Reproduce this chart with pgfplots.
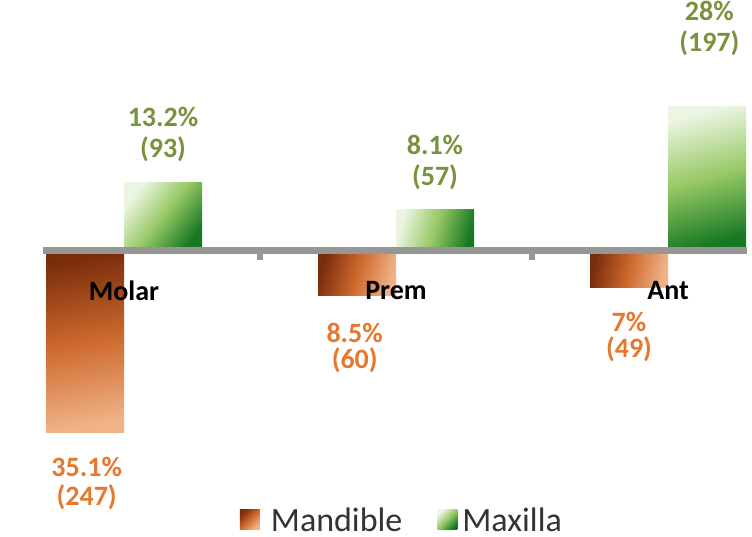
\documentclass[border=0pt]{standalone}
\usepackage{pgfplots}
\pgfplotsset{compat=1.18}
\usepackage{fontspec}
\setmainfont{Carlito}

\definecolor{manddark}{RGB}{122,45,12}
\definecolor{mandmid}{RGB}{205,105,45}
\definecolor{mandlight}{RGB}{240,178,135}
\definecolor{maxlight}{RGB}{236,245,226}
\definecolor{maxmid}{RGB}{150,200,100}
\definecolor{maxdark}{RGB}{22,120,35}
\definecolor{greentext}{RGB}{119,147,60}
\definecolor{orangetext}{RGB}{230,120,45}
\definecolor{basegray}{RGB}{150,150,150}

% 1px of the reference = 0.75pt
\pgfplotsset{
  mand/.style={ybar, bar width=58.5pt, bar shift=-29.25pt, draw=none,
    top color=manddark, bottom color=mandlight, middle color=mandmid,
    every node near coord/.append style={text=orangetext, inner sep=0pt,
      font=\bfseries\fontsize{21}{19.5}\selectfont, align=center, anchor=north}},
  maxi/.style={ybar, bar width=58.5pt, bar shift=29.25pt, draw=none,
    top color=maxlight, bottom color=maxdark, middle color=maxmid,
    every node near coord/.append style={text=greentext, inner sep=0pt,
      font=\bfseries\fontsize{21}{23.25}\selectfont, align=center, anchor=south}},
  mandleg/.style={legend image code/.code={\path (19.5pt,0pt);
      \path[##1] (0pt,-7.5pt) rectangle (15pt,7.5pt);},
    draw=none, top color=manddark, bottom color=mandlight, middle color=mandmid, shading angle=45},
  maxileg/.style={legend image code/.code={\path[##1] (0pt,-7.5pt) rectangle (15pt,7.5pt);},
    draw=none, top color=maxlight, bottom color=maxdark, middle color=maxmid, shading angle=45},
}

\begin{document}
\begin{tikzpicture}
\begin{axis}[
  scale only axis,
  width=564pt, height=402.75pt,
  xmin=-0.4559, xmax=2.3088,
  ymin=-389.1, ymax=341.5,
  axis on top,
  axis x line=middle, axis y line=none,
  axis line style={draw=basegray, line width=5.25pt, shorten <=32.25pt, shorten >=3.75pt, -},
  xtick={0,1,2}, xticklabels={Molar,Prem,Ant},
  ytick=\empty,
  major tick length=0pt,
  extra x ticks={0.5,1.5}, extra x tick labels={},
  extra x tick style={major tick length=6.75pt, tick align=outside,
    tick style={draw=basegray, line width=4.5pt}},
  xticklabel style={font=\bfseries\fontsize{21}{25}\selectfont, text=black,
    inner sep=0pt, anchor=north, yshift=-22.5pt},
  clip=false,
  axis background/.style={fill=white},
  legend columns=2,
  legend style={at={(0.534,0.033)}, anchor=center, draw=none, fill=none,
    font=\fontsize{25.5}{29}\selectfont, text=black!80,
    nodes={inner sep=1pt, text depth=0pt},
    /tikz/every odd column/.append style={column sep=2.75pt},
    /tikz/every even column/.append style={column sep=25.25pt}},
]
% Mandible (below the axis)
\addplot[mand, shading angle=10, forget plot, nodes near coords={35.1\%\\(247)},
  every node near coord/.append style={yshift=-18.4pt, xshift=-28pt,
    font=\bfseries\fontsize{21}{22}\selectfont}] coordinates {(0,-247)};
\addplot[mand, shading angle=75, forget plot, nodes near coords={8.5\%\\(60)},
  every node near coord/.append style={yshift=-21pt, xshift=-31pt}] coordinates {(1,-60)};
\addplot[mand, shading angle=78, forget plot, nodes near coords={7\%\\(49)},
  every node near coord/.append style={yshift=-18.75pt, xshift=-29.25pt}] coordinates {(2,-49)};
% Maxilla (above the axis)
\addplot[maxi, shading angle=52, forget plot, nodes near coords={13.2\%\\(93)},
  every node near coord/.append style={yshift=15.5pt, xshift=29.25pt}] coordinates {(0,93)};
\addplot[maxi, shading angle=73, forget plot, nodes near coords={8.1\%\\(57)},
  every node near coord/.append style={yshift=14.3pt, xshift=29.25pt}] coordinates {(1,57)};
\addplot[maxi, shading angle=15, forget plot, nodes near coords={28\%\\(197)},
  every node near coord/.append style={yshift=37.75pt, xshift=31pt}] coordinates {(2,197)};

\addlegendimage{mandleg}
\addlegendentry{Mandible}
\addlegendimage{maxileg}
\addlegendentry{Maxilla}
\end{axis}
\pgfresetboundingbox
\path[use as bounding box] (current axis.south west) rectangle (current axis.north east);
\end{tikzpicture}
\end{document}
